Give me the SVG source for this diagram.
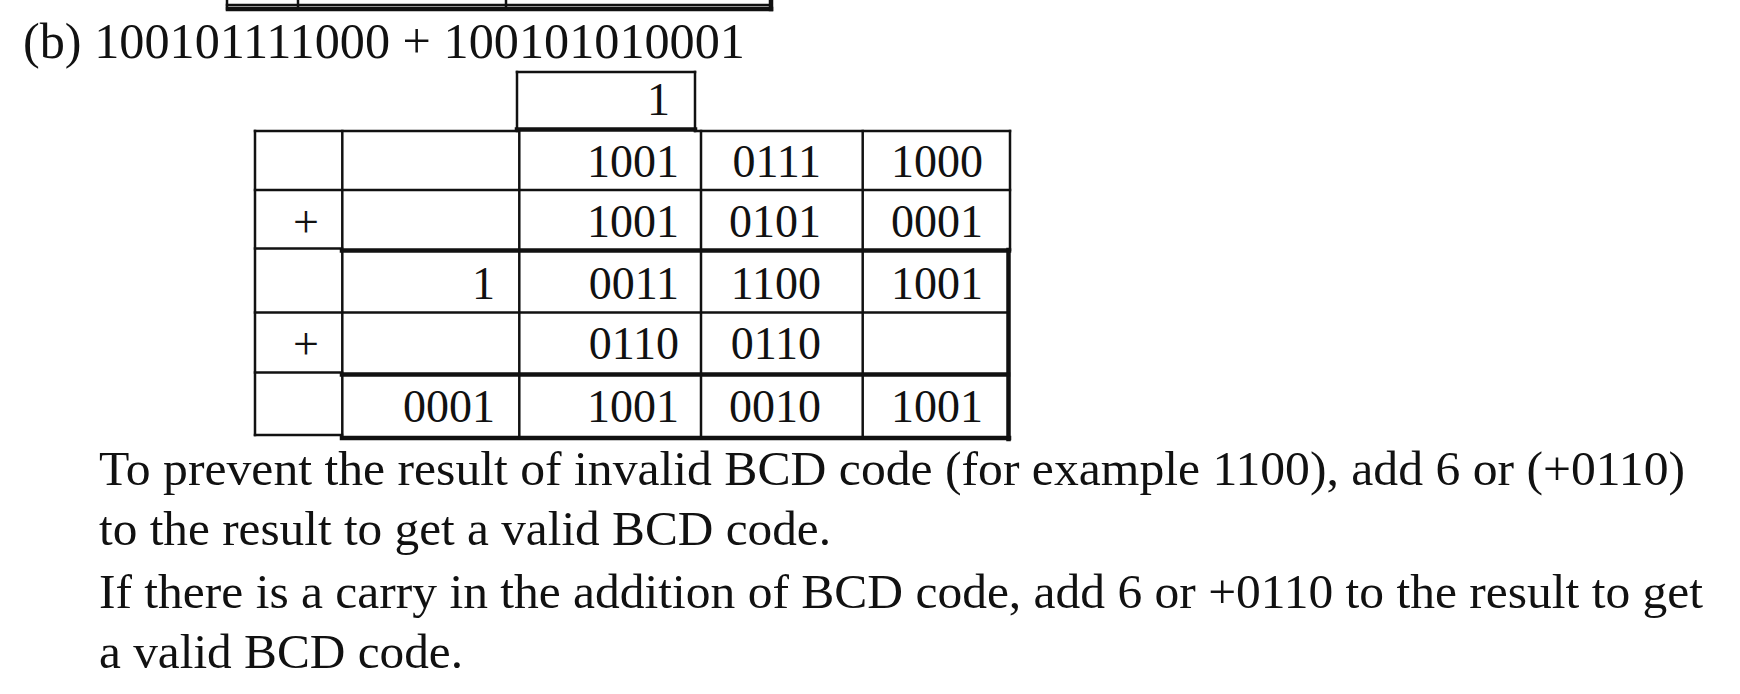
<svg xmlns="http://www.w3.org/2000/svg" width="1740" height="694" viewBox="0 0 1740 694">
<style>
.t{font-family:"Liberation Serif","Times New Roman",serif;fill:#111}
.c{font-size:46px;text-anchor:end}
.p{font-size:48px}
.ln{stroke:#111;stroke-width:2.5;fill:none;stroke-linecap:square}
.tk{stroke:#111;stroke-width:4.5;fill:none;stroke-linecap:square}
</style>
<rect width="1740" height="694" fill="#fff"/>
<g id="prev-table">
<line class="ln" x1="227" y1="0" x2="227" y2="9"/>
<line class="ln" x1="298" y1="0" x2="298" y2="7"/>
<line class="ln" x1="506" y1="0" x2="506" y2="7"/>
<line class="ln" x1="227" y1="5" x2="771" y2="5"/>
<line class="tk" x1="228" y1="9" x2="771" y2="9"/>
<line class="tk" x1="771" y1="0" x2="771" y2="9"/>
</g>
<g id="title">
<text class="t" x="23" y="58" font-size="50" textLength="722" lengthAdjust="spacingAndGlyphs">(b) 100101111000 + 100101010001</text>
</g>
<g id="carry-box">
<line class="ln" x1="517" y1="72" x2="695" y2="72"/>
<line class="ln" x1="517" y1="72" x2="517" y2="131"/>
<line class="ln" x1="695" y1="72" x2="695" y2="131"/>
<text class="t c" x="670" y="115">1</text>
</g>
<g id="table-lines">
<line class="ln" x1="255" y1="131" x2="517" y2="131"/>
<line class="tk" x1="517" y1="129.5" x2="695" y2="129.5"/>
<line class="ln" x1="695" y1="131" x2="1010" y2="131"/>
<line class="ln" x1="255" y1="190" x2="1010" y2="190"/>
<line class="ln" x1="255" y1="248.5" x2="342" y2="248.5"/>
<line class="tk" x1="342" y1="250.5" x2="1009" y2="250.5"/>
<line class="ln" x1="255" y1="312.5" x2="1008" y2="312.5"/>
<line class="ln" x1="255" y1="372.5" x2="342" y2="372.5"/>
<line class="tk" x1="342" y1="374.5" x2="1008" y2="374.5"/>
<line class="ln" x1="255" y1="435" x2="342" y2="435"/>
<line class="tk" x1="342" y1="438" x2="1009" y2="438"/>
<line class="ln" x1="255" y1="131" x2="255" y2="435"/>
<line class="ln" x1="342.3" y1="131" x2="342.3" y2="438"/>
<line class="ln" x1="519.3" y1="131" x2="519.3" y2="438"/>
<line class="ln" x1="701" y1="131" x2="701" y2="438"/>
<line class="ln" x1="862.7" y1="131" x2="862.7" y2="438"/>
<line class="ln" x1="1010" y1="131" x2="1010" y2="250"/>
<line class="tk" x1="1008.5" y1="250" x2="1008.5" y2="439"/>
</g>
<g id="row1">
<text class="t c" x="679" y="177">1001</text>
<text class="t c" x="821" y="177">0111</text>
<text class="t c" x="983" y="177">1000</text>
</g>
<g id="row2">
<text class="t" x="293" y="237" font-size="46">+</text>
<text class="t c" x="679" y="237">1001</text>
<text class="t c" x="821" y="237">0101</text>
<text class="t c" x="983" y="237">0001</text>
</g>
<g id="row3">
<text class="t c" x="495" y="299">1</text>
<text class="t c" x="679" y="299">0011</text>
<text class="t c" x="821" y="299">1100</text>
<text class="t c" x="983" y="299">1001</text>
</g>
<g id="row4">
<text class="t" x="293" y="359" font-size="46">+</text>
<text class="t c" x="679" y="359">0110</text>
<text class="t c" x="821" y="359">0110</text>
</g>
<g id="row5">
<text class="t c" x="495" y="422">0001</text>
<text class="t c" x="679" y="422">1001</text>
<text class="t c" x="821" y="422">0010</text>
<text class="t c" x="983" y="422">1001</text>
</g>
<g id="explanation">
<text class="t p" x="99" y="485" textLength="1586" lengthAdjust="spacingAndGlyphs">To prevent the result of invalid BCD code (for example 1100), add 6 or (+0110)</text>
<text class="t p" x="99" y="545" textLength="732" lengthAdjust="spacingAndGlyphs">to the result to get a valid BCD code.</text>
<text class="t p" x="99" y="608" textLength="1604" lengthAdjust="spacingAndGlyphs">If there is a carry in the addition of BCD code, add 6 or +0110 to the result to get</text>
<text class="t p" x="99" y="668" textLength="364" lengthAdjust="spacingAndGlyphs">a valid BCD code.</text>
</g>
</svg>
